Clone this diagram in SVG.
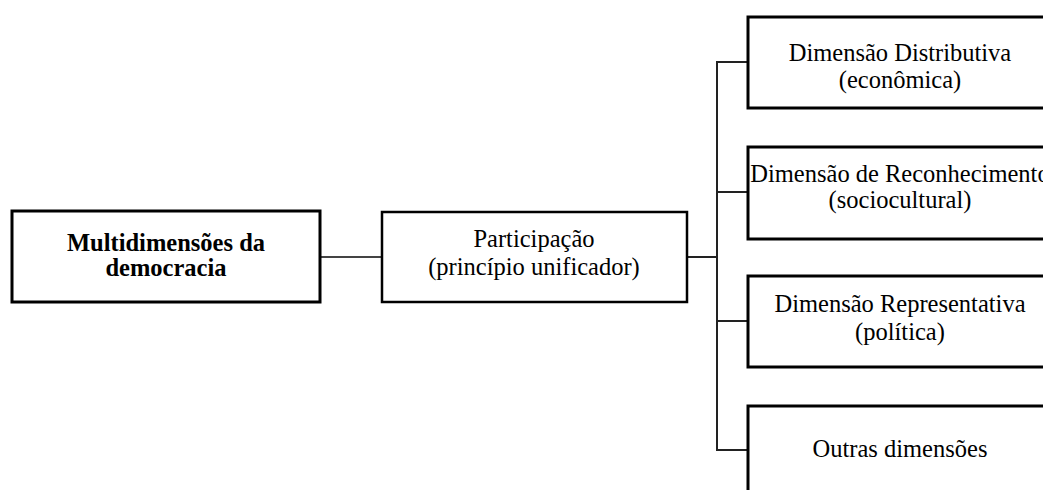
<svg xmlns="http://www.w3.org/2000/svg" width="1043" height="490" viewBox="0 0 1043 490">
<style>
.box{fill:#fff;stroke:#000;stroke-width:3}
.t{font-family:"Liberation Serif","Times New Roman",serif;font-size:24.5px;fill:#000;text-anchor:middle}
.b{font-weight:bold}
.c{fill:none;stroke:#222;stroke-width:2}
</style>
<rect width="1043" height="490" fill="#fff"/>
<g id="connectors">
<line class="c" x1="320" y1="257" x2="382" y2="257" style="stroke:#444"/>
<line class="c" x1="687" y1="257" x2="718" y2="257"/>
<line class="c" x1="717" y1="61" x2="717" y2="451"/>
<line class="c" x1="716" y1="62" x2="748" y2="62"/>
<line class="c" x1="716" y1="192" x2="748" y2="192"/>
<line class="c" x1="716" y1="321" x2="748" y2="321"/>
<line class="c" x1="716" y1="450" x2="748" y2="450"/>
</g>
<g id="n-multi">
<rect class="box" x="12" y="211" width="308" height="91"/>
<text class="t b" x="166" y="251">Multidimensões da</text>
<text class="t b" x="166" y="276">democracia</text>
</g>
<g id="n-part">
<rect class="box" x="382" y="212" width="305" height="90" style="stroke-width:2.5"/>
<text class="t" x="534" y="247">Participação</text>
<text class="t" x="534" y="275">(princípio unificador)</text>
</g>
<g id="n-distr">
<rect class="box" x="748" y="17" width="306" height="91"/>
<text class="t" x="900" y="61">Dimensão Distributiva</text>
<text class="t" x="900" y="88">(econômica)</text>
</g>
<g id="n-recon">
<rect class="box" x="748" y="147" width="306" height="92"/>
<text class="t" x="900" y="182">Dimensão de Reconhecimento</text>
<text class="t" x="900" y="208">(sociocultural)</text>
</g>
<g id="n-repr">
<rect class="box" x="748" y="276" width="306" height="91"/>
<text class="t" x="900" y="312">Dimensão Representativa</text>
<text class="t" x="900" y="340">(política)</text>
</g>
<g id="n-outras">
<rect class="box" x="748" y="406" width="306" height="100"/>
<text class="t" x="900" y="457">Outras dimensões</text>
</g>
</svg>
